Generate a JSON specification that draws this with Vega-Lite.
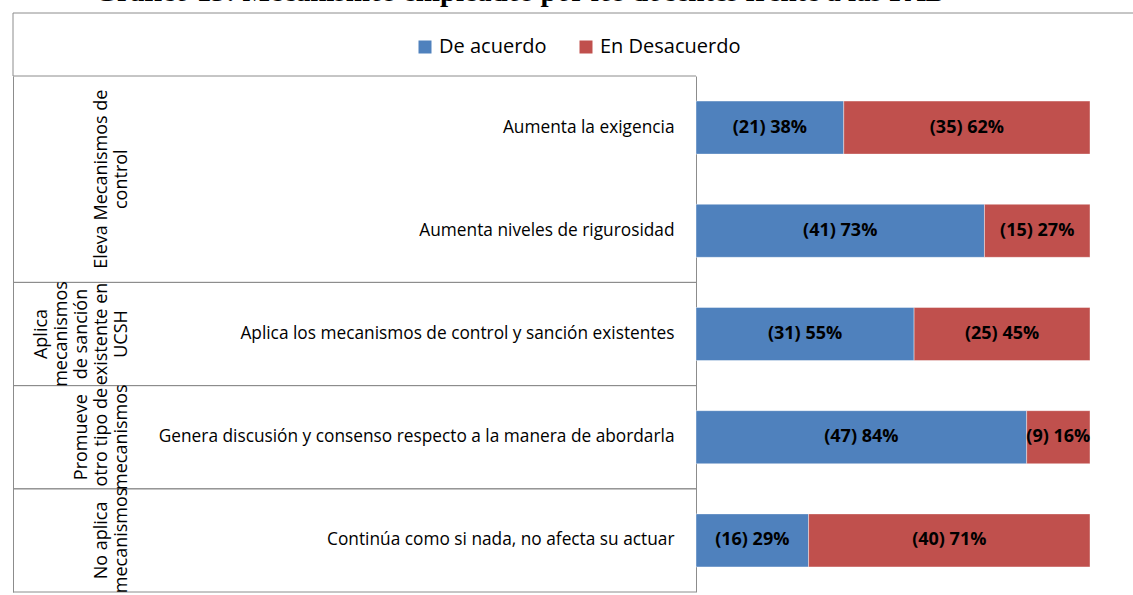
{
  "$schema": "https://vega.github.io/schema/vega-lite/v6.json",
  "padding": {"left": 12, "top": -23, "right": 0, "bottom": 0},
  "bounds": "flush",
  "spacing": 0,
  "title": {
    "text": "Gráfico 13: Mecanismos empleados por los docentes frente a las FAD",
    "font": "Liberation Serif",
    "fontSize": 29,
    "fontWeight": "bold",
    "color": "#000000",
    "anchor": "middle",
    "baseline": "bottom",
    "offset": -23,
    "dx": -53
  },
  "config": {
    "view": {"stroke": null},
    "font": "Open Sans",
    "legend": {
      "orient": "none",
      "legendX": 402,
      "legendY": 24,
      "direction": "horizontal",
      "symbolType": "square",
      "symbolSize": 169,
      "symbolStrokeWidth": 0,
      "symbolOpacity": 1,
      "labelFontSize": 20,
      "labelFont": "Open Sans",
      "labelColor": "#000000",
      "labelOffset": 4,
      "columnPadding": 29,
      "title": null
    }
  },
  "datasets": {
    "bars": [
      {"category": "Aumenta la exigencia", "resp": "De acuerdo", "count": 21, "label": "(21) 38%"},
      {"category": "Aumenta la exigencia", "resp": "En Desacuerdo", "count": 35, "label": "(35) 62%"},
      {"category": "Aumenta niveles de rigurosidad", "resp": "De acuerdo", "count": 41, "label": "(41) 73%"},
      {"category": "Aumenta niveles de rigurosidad", "resp": "En Desacuerdo", "count": 15, "label": "(15) 27%"},
      {"category": "Aplica los mecanismos de control y sanción existentes", "resp": "De acuerdo", "count": 31, "label": "(31)  55%"},
      {"category": "Aplica los mecanismos de control y sanción existentes", "resp": "En Desacuerdo", "count": 25, "label": "(25) 45%"},
      {"category": "Genera discusión y consenso respecto a la manera de abordarla", "resp": "De acuerdo", "count": 47, "label": "(47) 84%"},
      {"category": "Genera discusión y consenso respecto a la manera de abordarla", "resp": "En Desacuerdo", "count": 9, "label": "(9) 16%"},
      {"category": "Continúa como si nada, no afecta su actuar", "resp": "De acuerdo", "count": 16, "label": "(16) 29%"},
      {"category": "Continúa como si nada, no afecta su actuar", "resp": "En Desacuerdo", "count": 40, "label": "(40) 71%"}
    ],
    "groups": [
      {"group": ["Eleva Mecanismos de", "control"], "start": 0, "end": 2},
      {"group": ["Aplica", "mecanismos", "de sanción", "existente en", "UCSH"], "start": 2, "end": 3},
      {"group": ["Promueve", "otro tipo de", "mecanismos"], "start": 3, "end": 4},
      {"group": ["No aplica", "mecanismos"], "start": 4, "end": 5}
    ]
  },
  "vconcat": [
    {
      "width": 1121,
      "height": 63,
      "data": {"values": [{}]},
      "layer": [
        {
          "mark": {"type": "rule", "color": "#8c8c8c"},
          "encoding": {"y": {"datum": 1, "type": "quantitative", "scale": {"domain": [0, 1]}, "axis": null}}
        },
        {
          "mark": {"type": "rule", "color": "#8c8c8c"},
          "encoding": {"x": {"datum": 0, "type": "quantitative", "scale": {"domain": [0, 1]}, "axis": null}}
        }
      ]
    },
    {
      "spacing": 0,
      "bounds": "flush",
      "hconcat": [
        {
          "width": 236,
          "height": 516,
          "data": {"name": "groups"},
          "transform": [
            {"calculate": "(datum.start + datum.end) / 2", "as": "mid"},
            {"calculate": "reverse(slice(datum.group, 0))", "as": "lines"}
          ],
          "layer": [
            {
              "mark": {"type": "rule", "color": "#8c8c8c"},
              "encoding": {
                "y": {
                  "field": "start", "type": "quantitative",
                  "scale": {"domain": [0, 5], "reverse": true, "nice": false},
                  "axis": {"labels": false, "ticks": false, "title": null, "grid": false, "domainColor": "#8c8c8c", "minExtent": 0}
                }
              }
            },
            {
              "mark": {"type": "rule", "color": "#8c8c8c"},
              "encoding": {"y": {"field": "end", "type": "quantitative"}}
            },
            {
              "mark": {"type": "text", "angle": 270, "baseline": "bottom", "align": "center", "fontSize": 18, "lineHeight": -20, "font": "Open Sans", "color": "#000000"},
              "encoding": {
                "y": {"field": "mid", "type": "quantitative"},
                "text": {"field": "lines", "type": "nominal"}
              }
            }
          ]
        },
        {
          "width": 447,
          "height": 516,
          "data": {"name": "groups"},
          "layer": [
            {
              "mark": {"type": "rule", "color": "#8c8c8c"},
              "encoding": {
                "y": {"field": "start", "type": "quantitative", "scale": {"domain": [0, 5], "reverse": true, "nice": false}, "axis": null}
              }
            },
            {
              "mark": {"type": "rule", "color": "#8c8c8c"},
              "encoding": {"y": {"field": "end", "type": "quantitative"}}
            }
          ]
        },
        {
          "width": 394,
          "height": 516,
          "data": {"name": "bars"},
          "transform": [
            {"stack": "count", "groupby": ["category"], "offset": "normalize", "sort": [{"field": "resp", "order": "ascending"}], "as": ["x0", "x1"]},
            {"calculate": "(datum.x0 + datum.x1) / 2", "as": "mid"}
          ],
          "encoding": {
            "y": {
              "field": "category", "type": "nominal", "sort": null,
              "scale": {"paddingInner": 0.486, "paddingOuter": 0.243},
              "axis": {"title": null, "ticks": false, "grid": false, "domainColor": "#8c8c8c", "labelFontSize": 17.3, "labelFont": "Open Sans", "labelColor": "#000000", "labelPadding": 22, "labelLimit": 1000}
            }
          },
          "layer": [
            {
              "mark": {"type": "bar", "stroke": "#ffffff", "strokeWidth": 1, "strokeOpacity": 0.4},
              "encoding": {
                "x": {"field": "x0", "type": "quantitative", "scale": {"domain": [0, 1], "nice": false}, "axis": null},
                "x2": {"field": "x1"},
                "color": {
                  "field": "resp", "type": "nominal",
                  "scale": {"domain": ["De acuerdo", "En Desacuerdo"], "range": ["#4F81BD", "#C0504D"]}
                }
              }
            },
            {
              "mark": {"type": "text", "fontWeight": "bold", "fontSize": 18, "font": "Open Sans", "color": "#000000"},
              "encoding": {
                "x": {"field": "mid", "type": "quantitative"},
                "text": {"field": "label", "type": "nominal"}
              }
            }
          ]
        }
      ]
    }
  ]
}
